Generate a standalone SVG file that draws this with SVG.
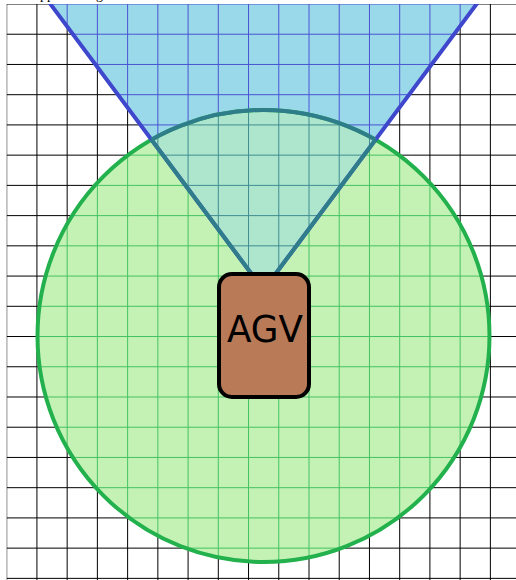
<svg xmlns="http://www.w3.org/2000/svg" xmlns:xlink="http://www.w3.org/1999/xlink" width="516" height="580" viewBox="0 0 516 580">
  <style>
    .grid { fill: none; stroke-width: 1; }
    .label { font-family: "DejaVu Sans", "Liberation Sans", sans-serif; fill: #000; }
  </style>
  <defs>
    <clipPath id="area"><rect x="6.7" y="4" width="520" height="580"/></clipPath>
    <clipPath id="circleClip"><circle cx="263.5" cy="336" r="226"/></clipPath>
    <clipPath id="coneClip"><polygon points="263.5,290 32.5,-20 494.5,-20"/></clipPath>
    <path id="gridPath" d="M6.7,4V580M36.93,4V580M67.16,4V580M97.39,4V580M127.62,4V580M157.85,4V580M188.08,4V580M218.31,4V580M248.54,4V580M278.77,4V580M309,4V580M339.23,4V580M369.46,4V580M399.69,4V580M429.92,4V580M460.15,4V580M490.38,4V580M6.7,4H516M6.7,34.23H516M6.7,64.46H516M6.7,94.69H516M6.7,124.92H516M6.7,155.15H516M6.7,185.38H516M6.7,215.61H516M6.7,245.84H516M6.7,276.07H516M6.7,306.3H516M6.7,336.53H516M6.7,366.76H516M6.7,396.99H516M6.7,427.22H516M6.7,457.45H516M6.7,487.68H516M6.7,517.91H516M6.7,548.14H516M6.7,578.37H516"/>
  </defs>
  <rect x="0" y="0" width="516" height="580" fill="#ffffff"/>
  <text x="30" y="-1" font-family="Liberation Serif, serif" font-size="14" fill="#000">Approaching</text>

  <g clip-path="url(#area)">
    <use xlink:href="#gridPath" class="grid" stroke="#000000"/>

    <g id="safety-zone">
      <circle cx="263.5" cy="336" r="226" fill="#c4f2b4"/>
      <use xlink:href="#gridPath" class="grid" stroke="#44c262" clip-path="url(#circleClip)"/>
    </g>

    <g id="sensor-fov">
      <polygon points="263.5,290 32.5,-20 494.5,-20" fill="#9ad9ea"/>
      <use xlink:href="#gridPath" class="grid" stroke="#4a52d4" clip-path="url(#coneClip)"/>
      <g clip-path="url(#circleClip)">
        <polygon points="263.5,290 32.5,-20 494.5,-20" fill="#aee6cd"/>
        <use xlink:href="#gridPath" class="grid" stroke="#3f8c92" clip-path="url(#coneClip)"/>
      </g>
    </g>

    <g id="outlines">
      <circle cx="263.5" cy="336" r="226" fill="none" stroke="#22b14c" stroke-width="4"/>
      <polyline points="32.5,-20 263.5,290 494.5,-20" fill="none" stroke="#3f48cc" stroke-width="4" stroke-linejoin="miter"/>
      <circle cx="263.5" cy="336" r="226" fill="none" stroke="#2f7d8a" stroke-width="4" clip-path="url(#coneClip)"/>
      <polyline points="32.5,-20 263.5,290 494.5,-20" fill="none" stroke="#2f7d8a" stroke-width="4" clip-path="url(#circleClip)"/>
    </g>
  </g>

  <g id="agv">
    <rect x="219" y="274" width="90" height="123" rx="13" ry="13" fill="#b97a57" stroke="#000000" stroke-width="4"/>
    <text class="label" x="265" y="342" font-size="38" text-anchor="middle" textLength="76" lengthAdjust="spacingAndGlyphs">AGV</text>
  </g>
</svg>
